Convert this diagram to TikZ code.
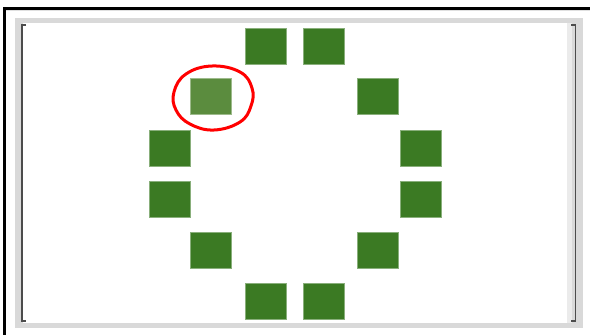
\documentclass[tikz,border=0pt]{standalone}
\begin{document}
\begin{tikzpicture}[x=1pt,y=-1pt,
  sq/.style={fill=sqgreen,draw=sqgreen!60!white,line width=0.6pt},
  sqhi/.style={fill=sqlight,draw=sqlight!60!white,line width=0.6pt},
  brk/.style={draw=black!70,line width=1.2pt}]
\definecolor{sqgreen}{HTML}{3B7A23}
\definecolor{sqlight}{HTML}{5B8C3E}
\definecolor{panelgray}{HTML}{D9D9D9}
\useasboundingbox (0,0) rectangle (590,335);
\fill[white] (0,0) rectangle (590,335);
% outer black frame (top and left)
\fill[black] (3,7) rectangle (590,10);
\fill[black] (3,7) rectangle (6,335);
\fill[black!12] (6,10) rectangle (590,11);
% gray panel
\fill[panelgray] (15,18) rectangle (583,328);
\fill[white] (23,23) rectangle (567,323);
\fill[black!8] (567,23) rectangle (572,323);
% brackets
\draw[brk] (26,25) -- (22,25) -- (22,321) -- (26,321);
\draw[brk] (571,25) -- (575.5,25) -- (575.5,321) -- (571,321);
% squares
\node[sq,minimum width=41pt,minimum height=36pt,inner sep=0pt] (s1) at (265.5,46) {};
\node[sq,minimum width=41pt,minimum height=36pt,inner sep=0pt] (s2) at (323.5,46) {};
\node[sqhi,minimum width=41pt,minimum height=36pt,inner sep=0pt] (s3) at (211,96.5) {};
\node[sq,minimum width=41pt,minimum height=36pt,inner sep=0pt] (s4) at (378,96.5) {};
\node[sq,minimum width=41pt,minimum height=36pt,inner sep=0pt] (s5) at (169.5,148) {};
\node[sq,minimum width=41pt,minimum height=36pt,inner sep=0pt] (s6) at (420.5,148) {};
\node[sq,minimum width=41pt,minimum height=36pt,inner sep=0pt] (s7) at (169.5,199) {};
\node[sq,minimum width=41pt,minimum height=36pt,inner sep=0pt] (s8) at (420.5,199) {};
\node[sq,minimum width=41pt,minimum height=36pt,inner sep=0pt] (s9) at (211,250) {};
\node[sq,minimum width=41pt,minimum height=36pt,inner sep=0pt] (s10) at (378,250) {};
\node[sq,minimum width=41pt,minimum height=36pt,inner sep=0pt] (s11) at (265.5,301.5) {};
\node[sq,minimum width=41pt,minimum height=36pt,inner sep=0pt] (s12) at (323.5,301.5) {};
% red hand-drawn ellipse
\draw[red,line width=3pt] plot[smooth cycle,tension=0.7] coordinates
  {(212,66) (240,72) (252,88) (251,106) (240,122) (214,130) (190,124) (176,110) (174,92) (186,74)};
\end{tikzpicture}
\end{document}
